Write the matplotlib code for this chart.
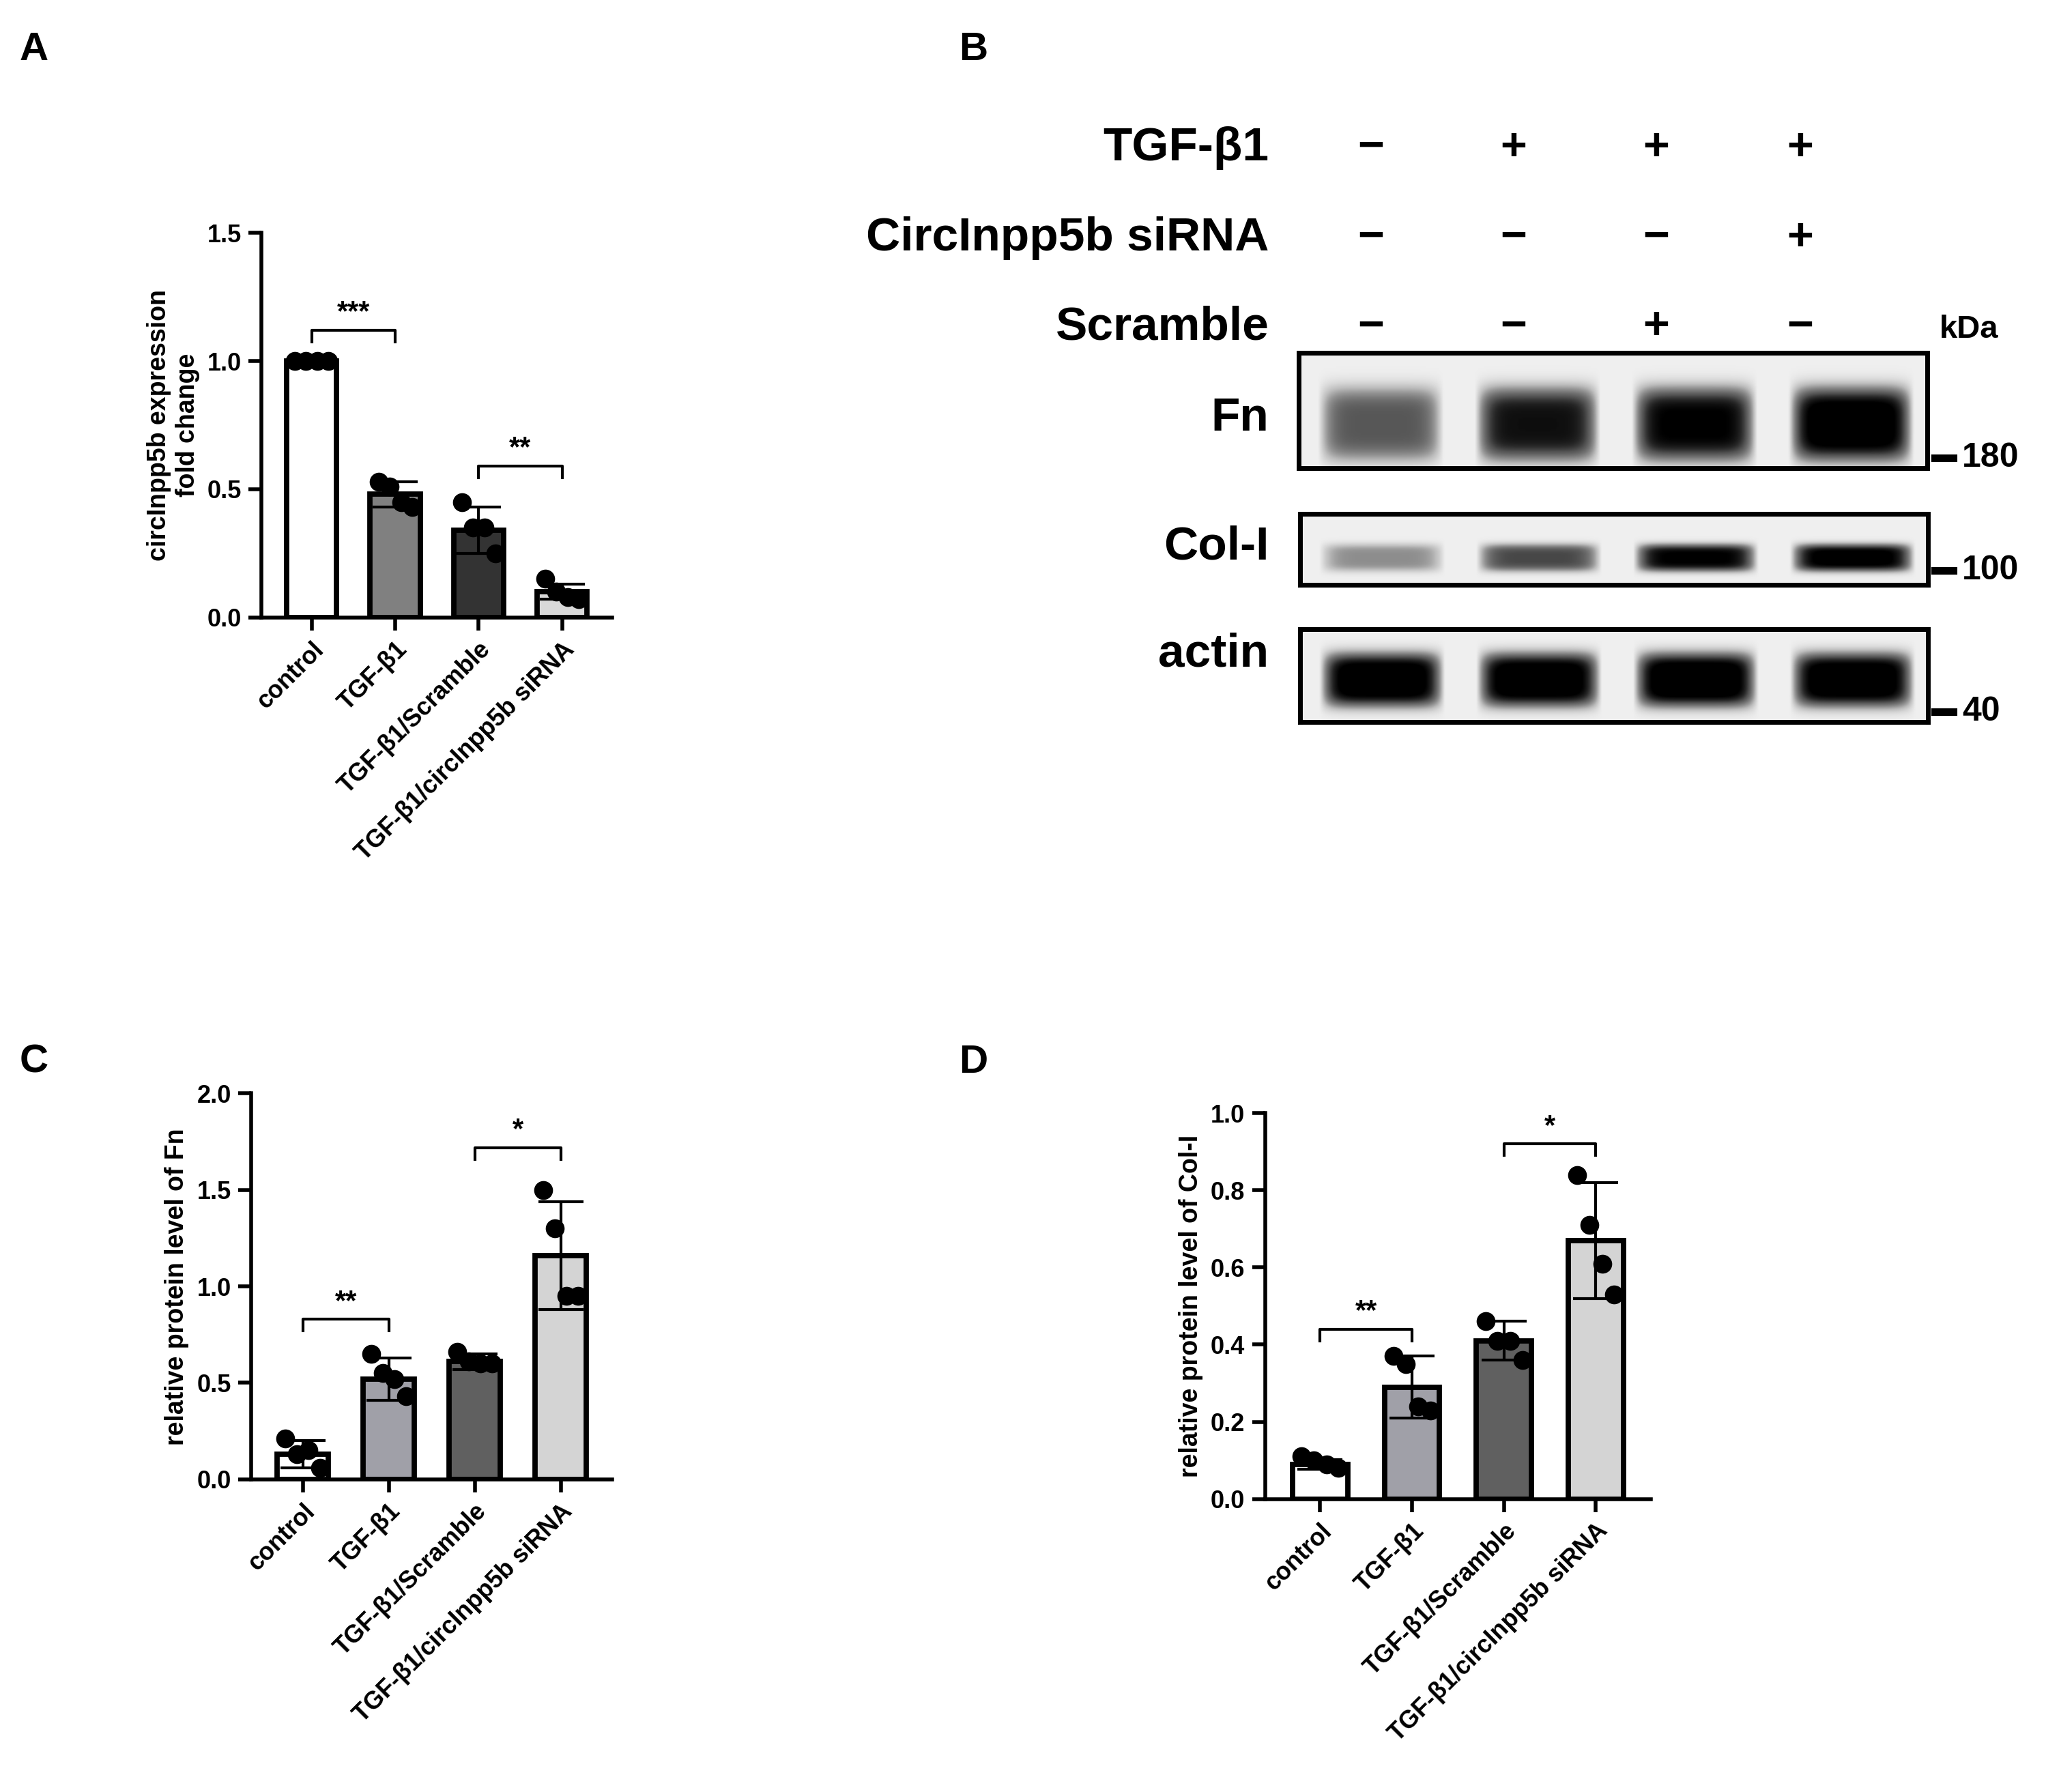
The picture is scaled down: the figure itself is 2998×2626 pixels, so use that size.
import numpy as np
import matplotlib
matplotlib.use('Agg')
import matplotlib.pyplot as plt

plt.rcParams['font.family'] = ['Liberation Sans', 'DejaVu Sans']
plt.rcParams['font.weight'] = 'bold'

groups = ["control", "TGF-β1", "TGF-β1/Scramble", "TGF-β1/circInpp5b siRNA"]

a_means = [1.0, 0.48, 0.34, 0.10]
a_err = [0.005, 0.05, 0.09, 0.03]
a_pts = [[1.0, 1.0, 1.0, 1.0], [0.53, 0.51, 0.45, 0.43], [0.45, 0.35, 0.35, 0.25], [0.15, 0.10, 0.08, 0.07]]
a_colors = ["#ffffff", "#808080", "#333333", "#d9d9d9"]

c_means = [0.13, 0.52, 0.61, 1.16]
c_err = [0.07, 0.11, 0.04, 0.28]
c_pts = [[0.21, 0.13, 0.15, 0.06], [0.65, 0.55, 0.52, 0.43], [0.66, 0.61, 0.60, 0.60], [1.50, 1.30, 0.95, 0.95]]

d_means = [0.09, 0.29, 0.41, 0.67]
d_err = [0.012, 0.08, 0.05, 0.15]
d_pts = [[0.11, 0.10, 0.09, 0.08], [0.37, 0.35, 0.24, 0.23], [0.46, 0.41, 0.41, 0.36], [0.84, 0.71, 0.61, 0.53]]
cd_colors = ["#ffffff", "#a0a0a8", "#606060", "#d4d4d4"]

# blot band intensities per lane (0..1)
fn_int = [0.6, 0.82, 0.88, 0.97]
col_int = [0.4, 0.65, 0.88, 0.92]
actin_int = [0.97, 0.97, 0.99, 0.97]

W, H = 1564, 1370
fig = plt.figure(figsize=(14.99, 14.99 * H / W), dpi=200)


def box(x0, y0, x1, y1):
    return [x0 / W, 1 - y1 / H, (x1 - x0) / W, (y1 - y0) / H]


jit = [-0.2, -0.07, 0.07, 0.2]


def bar_panel(rect, means, err, pts, colors, ylim, step, ylabel, sig):
    ax = fig.add_axes(rect)
    x = np.arange(4)
    ax.bar(x, means, width=0.6, color=colors, edgecolor="black", linewidth=2.8, zorder=2)
    for i in range(4):
        ax.errorbar(i, means[i], yerr=err[i], color="black", capsize=12, capthick=1.5, elinewidth=1.5, zorder=3)
        ax.scatter(i + np.array(jit), pts[i], s=80, color="black", zorder=4)
    ax.set_xlim(-0.6, 3.6)
    ax.set_ylim(0, ylim)
    ax.set_yticks(np.arange(0, ylim + 1e-9, step))
    ax.yaxis.set_major_formatter(matplotlib.ticker.FormatStrFormatter('%.1f'))
    ax.set_xticks(x)
    ax.set_xticklabels(groups, rotation=45, ha="right", rotation_mode="anchor", fontsize=14, fontweight="bold")
    ax.tick_params(width=2, length=7, labelsize=13)
    for s in ["top", "right"]:
        ax.spines[s].set_visible(False)
    for s in ["left", "bottom"]:
        ax.spines[s].set_linewidth(2)
    ax.set_ylabel(ylabel, fontsize=13.5, fontweight="bold")
    for (i, j, y, txt) in sig:
        h = ylim * 0.03
        ax.plot([i, i, j, j], [y - h, y, y, y - h], color="black", lw=1.5)
        ax.text((i + j) / 2, y + ylim * 0.01, txt, ha="center", va="bottom", fontsize=15, fontweight="bold")
    return ax


bar_panel(box(200, 178, 468, 472), a_means, a_err, a_pts, a_colors, 1.5, 0.5,
          "circInpp5b expression\nfold change", [(0, 1, 1.12, "***"), (2, 3, 0.59, "**")])
bar_panel(box(192, 836, 468, 1131), c_means, c_err, c_pts, cd_colors, 2.0, 0.5,
          "relative protein level of Fn", [(0, 1, 0.83, "**"), (2, 3, 1.72, "*")])
bar_panel(box(967, 851, 1262, 1146), d_means, d_err, d_pts, cd_colors, 1.0, 0.2,
          "relative protein level of Col-I", [(0, 1, 0.44, "**"), (2, 3, 0.92, "*")])

for lab, xx, yy in [("A", 15, 38), ("B", 733, 38), ("C", 15, 812), ("D", 733, 812)]:
    fig.text(xx / W, 1 - yy / H, lab, fontsize=21, fontweight="bold", va="center")

# blot header
lanes = [1048, 1157, 1266, 1376]
rows = [("TGF-β1", 113, ["−", "+", "+", "+"]),
        ("CircInpp5b siRNA", 182, ["−", "−", "−", "+"]),
        ("Scramble", 250, ["−", "−", "+", "−"])]
for name, yy, signs in rows:
    fig.text(970 / W, 1 - yy / H, name, fontsize=25, fontweight="bold", ha="right", va="center")
    for lx, sg in zip(lanes, signs):
        fig.text(lx / W, 1 - yy / H, sg, fontsize=24, fontweight="bold", ha="center", va="center")
fig.text(1505 / W, 1 - 252 / H, "kDa", fontsize=17, fontweight="bold", ha="center", va="center")


def blot(rect, ints, center, thick, label, marker, label_y, marker_y):
    ax = fig.add_axes(box(*rect))
    nx, ny = 480, 100
    xs = np.linspace(0, 1, nx)
    ys = np.linspace(0, 1, ny)
    img = np.full((ny, nx), 0.13)
    for k, v in enumerate(ints):
        cx = 0.13 + k * 0.25
        px = np.clip(1 - (np.abs(xs - cx) / 0.1) ** 6, 0, 1)
        py = np.exp(-((ys - center) / thick) ** 4)
        img += v * np.outer(py, px)
    ax.imshow(np.clip(img, 0, 1), cmap="Greys", vmin=0, vmax=1, aspect="auto",
              extent=[0, 1, 1, 0], interpolation="bilinear")
    ax.set_xticks([])
    ax.set_yticks([])
    for s in ax.spines.values():
        s.set_linewidth(2.5)
    fig.text(970 / W, 1 - label_y / H, label, fontsize=25, fontweight="bold", ha="right", va="center")
    fig.add_artist(plt.Line2D([1479 / W, 1493 / W], [1 - marker_y / H] * 2, color="black", lw=4))
    fig.text(1500 / W, 1 - marker_y / H, marker, fontsize=18, fontweight="bold", ha="left", va="center")


blot((993, 270, 1473, 358), fn_int, 0.62, 0.33, "Fn", "180", 320, 350)
blot((994, 393, 1474, 447), col_int, 0.62, 0.2, "Col-I", "100", 418, 436)
blot((994, 481, 1474, 552), actin_int, 0.55, 0.3, "actin", "40", 500, 544)

fig.savefig("out.png", dpi=200, facecolor="white")
